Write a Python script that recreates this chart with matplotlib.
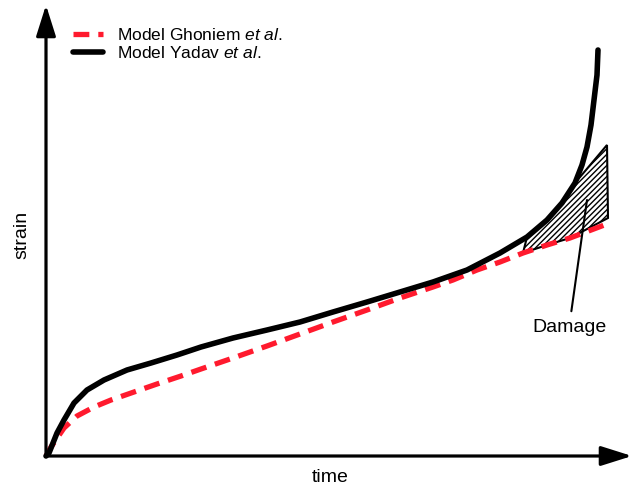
import numpy as np
import matplotlib
matplotlib.use('Agg')
from matplotlib import pyplot as plt

plt.rcParams['font.family'] = ['Liberation Sans', 'DejaVu Sans']
plt.rcParams['mathtext.fontset'] = 'custom'
plt.rcParams['mathtext.rm'] = 'Liberation Sans'
plt.rcParams['mathtext.it'] = 'Liberation Sans:italic'
plt.rcParams['hatch.linewidth'] = 1.0

# curves (time, strain), arbitrary units
yadav_t = [0, 3, 11, 18, 28, 41, 58, 81, 105, 131, 155, 187, 221, 254, 287,
           321, 354, 387, 421, 454, 481, 501, 516, 529, 536, 541, 545, 548,
           551, 552]
yadav_s = [0, 3, 23, 36, 53, 66, 76, 86, 93, 101, 109, 118, 126, 134, 144,
           154, 164, 174, 186, 203, 219, 236, 253, 273, 291, 309, 331, 356,
           381, 406]

ghoniem_t = [0, 5, 18, 31, 48, 65, 88, 111, 135, 155, 187, 221, 254, 287,
             321, 354, 387, 407, 431, 454, 477, 501, 524, 561]
ghoniem_s = [0, 9, 28, 40, 49, 56, 64, 72, 80, 87, 98, 110, 122, 134,
             146, 158, 169, 176, 186, 194, 203, 211, 218, 232]

# corners of the damage wedge (right side)
damage_t = [561, 562]
damage_s = [311, 238]

fig = plt.figure(figsize=(6.33, 4.88), dpi=100)
ax = fig.add_axes([0, 0, 1, 1])
ax.set_xlim(-46, 587)
ax.set_ylim(-32, 456)
ax.axis('off')

# hatched damage region between the two models
yt = np.array(yadav_t)
ys = np.array(yadav_s)
gt = np.array(ghoniem_t)
gs = np.array(ghoniem_s)
top = (yt >= 481) & (yt <= 529)
bot = (gt >= 477) & (gt < 561)
poly_t = list(yt[top]) + damage_t + list(gt[bot][::-1])
poly_s = list(ys[top]) + damage_s + list(gs[bot][::-1])
ax.fill(poly_t, poly_s, facecolor='white', edgecolor='black', lw=1.5,
        hatch='//////', zorder=1)

ax.plot(ghoniem_t, ghoniem_s, color='#ff1a2e', lw=3.8, dashes=(3, 1.7),
        label=r'Model Ghoniem $\it{et\ al.}$', zorder=2)
ax.plot(yadav_t, yadav_s, color='black', lw=4, solid_capstyle='round',
        solid_joinstyle='round', label=r'Model Yadav $\it{et\ al.}$', zorder=3)

# axes drawn as arrows
arrow = dict(arrowstyle='-|>,head_length=0.95,head_width=0.3', lw=2.3,
             color='black', shrinkA=0, shrinkB=0, mutation_scale=20)
ax.annotate('', xy=(0, 451), xytext=(0, 0), arrowprops=arrow, zorder=4)
ax.annotate('', xy=(586, 0), xytext=(0, 0), arrowprops=arrow, zorder=4)

ax.text(284, -22, 'time', fontsize=14, ha='center', va='center')
ax.text(-24, 221, 'strain', fontsize=14, rotation=90, ha='center', va='center')

ax.annotate('Damage', xy=(541, 256), xytext=(523, 128), fontsize=14,
            ha='center', va='center',
            arrowprops=dict(arrowstyle='-', lw=1.5, color='black',
                            shrinkA=4, shrinkB=0))

ax.legend(loc='upper left', bbox_to_anchor=(0.115, 0.945), frameon=False,
          fontsize=12.5, handlelength=1.75, handletextpad=0.8,
          labelspacing=0.15, borderpad=0, borderaxespad=0)

fig.savefig('out.png', dpi=100)
